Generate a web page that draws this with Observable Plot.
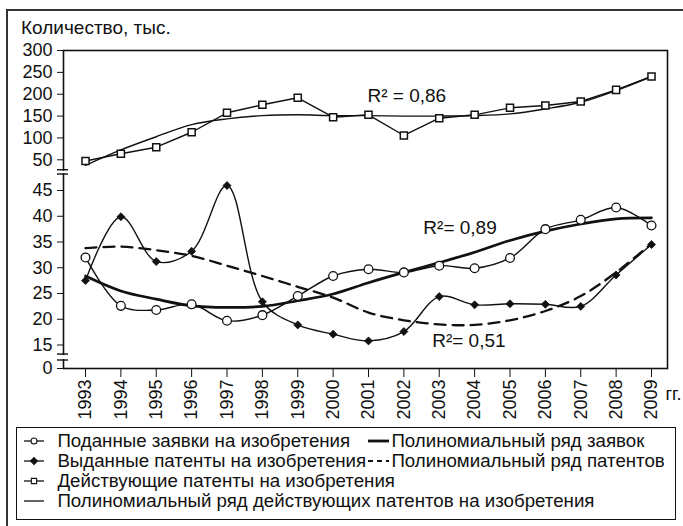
<!DOCTYPE html>
<html><head><meta charset="utf-8">
<script src="https://cdn.jsdelivr.net/npm/d3@7"></script>
<script src="https://cdn.jsdelivr.net/npm/@observablehq/plot@0.6"></script>
<style>
body{margin:0;background:#fff;font-family:"Liberation Sans",Arial,sans-serif;color:#111}
#wrap{position:relative;width:683px;height:526px;overflow:hidden;background:#fff}
#outer{position:absolute;left:6px;top:9px;width:720px;height:620px;border:2px solid #333;box-sizing:border-box}
#title{position:absolute;left:21px;top:18px;font-size:19px;line-height:19px;white-space:nowrap}
#chart{position:absolute;left:0;top:0}
#legend{position:absolute;left:16px;top:427px;width:660px;height:93px;border:1.6px solid #111;box-sizing:border-box}
.lrow{position:absolute;height:20px;line-height:20px;font-size:18.7px;white-space:nowrap}
.lsym{position:absolute}
</style></head>
<body>
<div id="wrap">
  <div id="outer"></div>
  <div id="title"></div>
  <div id="chart"></div>
  <div id="legend"></div>
</div>
<script>
const titleText = "Количество, тыс.";
const yearSuffix = "гг.";
const years = [1993,1994,1995,1996,1997,1998,1999,2000,2001,2002,2003,2004,2005,2006,2007,2008,2009];
// Поданные заявки на изобретения
const applications = [32.0,22.6,21.8,22.9,19.7,20.8,24.5,28.4,29.7,29.1,30.4,29.9,31.9,37.5,39.3,41.7,38.2];
// Выданные патенты на изобретения
const patents = [27.5,39.9,31.2,33.2,45.8,23.4,18.9,17.1,15.8,17.6,24.4,22.8,23.0,22.9,22.5,28.6,34.5];
// Действующие патенты на изобретения
const activePatents = [49.8,63.7,78.8,113.0,157.5,175.8,191.8,147.4,152.9,105.6,145.2,152.9,168.9,174.2,183.3,210.0,240.5];
// Полиномиальные ряды
const appTrend = [28.4,25.5,23.9,22.6,22.3,22.5,23.6,24.9,27.1,29.1,31.0,33.0,35.3,37.1,38.5,39.5,39.7];
const patTrend = [33.8,34.1,33.4,32.3,30.4,28.4,26.3,24.2,21.3,19.8,19.0,18.9,19.8,21.6,24.5,29.1,34.7];
const activeTrend = [49.1,72.7,102.8,130.5,143.7,151.0,152.9,151.0,151.0,150.0,150.0,151.0,155.0,166.5,181.7,208.5,240.5];

const yTicks = [0,15,20,25,30,35,40,45,50,100,150,200,250,300];
const yBreakDomain = [0,15,45,50,300];
const axisBreaks = [[47.6,48.3],[5.1,8.9]];

const annYears = [2000.97, 2002.55, 2002.8];
const annValues = [197, 37.8, 15.8];
const annLabels = ["R\u00B2 = 0,86", "R\u00B2= 0,89", "R\u00B2= 0,51"];

const legendCol1 = ["Поданные заявки на изобретения","Выданные патенты на изобретения","Действующие патенты на изобретения","Полиномиальный ряд действующих патентов на изобретения"];
const legendCol2 = ["Полиномиальный ряд заявок","Полиномиальный ряд патентов"];

const rows = years.map((year,i)=>({year, applications:applications[i], patents:patents[i], activePatents:activePatents[i], appTrend:appTrend[i], patTrend:patTrend[i], activeTrend:activeTrend[i]}));
const ann = annLabels.map((t,i)=>({x:annYears[i], y:annValues[i], t}));

const ink = "#111";

function breakMarks(index, scales, values, dims) {
  const g = d3.create("svg:g");
  const x0 = dims.marginLeft;
  for (const [a,b] of axisBreaks) {
    const ya = scales.y(a), yb = scales.y(b);
    g.append("rect").attr("x", x0-2).attr("y", Math.min(ya,yb)+1).attr("width",4).attr("height", Math.abs(yb-ya)-2).attr("fill","#fff");
    for (const yy of [ya,yb]) g.append("line").attr("x1",x0-6).attr("x2",x0+5).attr("y1",yy).attr("y2",yy).attr("stroke",ink).attr("stroke-width",1.4);
  }
  return g.node();
}

const chart = Plot.plot({
  width: 683, height: 428,
  marginLeft: 63, marginRight: 16, marginTop: 50, marginBottom: 60,
  style: {fontFamily: '"Liberation Sans", Arial, sans-serif', fontSize: "18px", color: ink, background: "transparent", overflow: "visible"},
  x: {type: "linear", domain: [1993, 2009], range: [85, 651], label: null},
  y: {type: "linear", domain: yBreakDomain, range: [368, 344.5, 190, 159.3, 50], label: null},
  marks: [
    Plot.axisY({ticks: yTicks, tickSize: 6, tickPadding: 5, label: null, fontSize: 18}),
    Plot.axisX({ticks: years, tickFormat: d => String(d), tickRotate: -90, tickSize: 9, tickPadding: 2, label: null, fontSize: 18}),
    Plot.line(rows, {x: "year", y: "activeTrend", curve: "catmull-rom", stroke: ink, strokeWidth: 1.4}),
    Plot.line(rows, {x: "year", y: "activePatents", stroke: ink, strokeWidth: 1.4}),
    Plot.line(rows, {x: "year", y: "patTrend", curve: "catmull-rom", stroke: ink, strokeWidth: 2.3, strokeDasharray: "11,7"}),
    Plot.line(rows, {x: "year", y: "appTrend", curve: "catmull-rom", stroke: ink, strokeWidth: 2.7}),
    Plot.line(rows, {x: "year", y: "patents", curve: "catmull-rom", stroke: ink, strokeWidth: 1.4}),
    Plot.line(rows, {x: "year", y: "applications", curve: "catmull-rom", stroke: ink, strokeWidth: 1.4}),
    Plot.dot(rows, {x: "year", y: "activePatents", symbol: "square", r: 4, fill: "#fff", stroke: ink, strokeWidth: 1.5}),
    Plot.dot(rows, {x: "year", y: "patents", symbol: "diamond2", r: 3.6, fill: ink, stroke: ink, strokeWidth: 0.8}),
    Plot.dot(rows, {x: "year", y: "applications", symbol: "circle", r: 4.4, fill: "#fff", stroke: ink, strokeWidth: 1.3}),
    Plot.text(ann, {x: "x", y: "y", text: "t", textAnchor: "start", fontSize: 19, fill: ink}),
    Plot.text([yearSuffix], {text: d => d, frameAnchor: "bottom-right", dx: -2, dy: 31, textAnchor: "start", fontSize: 18, fill: ink}),
    Plot.frame({stroke: ink, strokeWidth: 1.6}),
    breakMarks
  ]
});
document.getElementById("chart").appendChild(chart);
document.getElementById("title").textContent = titleText;

// Legend
const legend = document.getElementById("legend");
const L0 = 17.6, T0 = 428.6; // legend inner origin on page
const rowCenters = [442, 462, 482, 502];
function addSym(x1, x2, yc, draw) {
  const s = d3.create("svg").attr("class","lsym").attr("width", x2-x1+10).attr("height", 20)
    .style("left", (x1-5-L0)+"px").style("top", (yc-10-T0)+"px");
  draw(s, 5, x2-x1+5, 10);
  legend.appendChild(s.node());
}
function addText(x, yc, t) {
  const d = document.createElement("div");
  d.className = "lrow"; d.textContent = t;
  d.style.left = (x-L0)+"px"; d.style.top = (yc-10-T0)+"px";
  legend.appendChild(d);
}
const markerSyms = ["circle","diamond2","square"];
legendCol1.forEach((t,i) => {
  const yc = rowCenters[i];
  addSym(25, 45, yc, (s,a,b,m) => {
    s.append("line").attr("x1",a).attr("x2",b).attr("y1",m).attr("y2",m).attr("stroke",ink).attr("stroke-width",1.3);
    if (i < 3) {
      const sym = {circle: d3.symbolCircle, diamond2: d3.symbolDiamond2, square: d3.symbolSquare}[markerSyms[i]];
      const size = i === 1 ? 30 : 28;
      s.append("path").attr("d", d3.symbol(sym, size)()).attr("transform", `translate(${(a+b)/2},${m})`)
        .attr("fill", i === 1 ? ink : "#fff").attr("stroke", ink).attr("stroke-width", 1.1);
    }
  });
  addText(58, yc, t);
});
legendCol2.forEach((t,i) => {
  const yc = rowCenters[i];
  addSym(369, 390, yc, (s,a,b,m) => {
    const l = s.append("line").attr("x1",a).attr("x2",b).attr("y1",m).attr("y2",m).attr("stroke",ink);
    if (i === 0) l.attr("stroke-width",2.8);
    else l.attr("stroke-width",2).attr("stroke-dasharray","5,4");
  });
  addText(392, yc, t);
});
</script>
</body></html>
